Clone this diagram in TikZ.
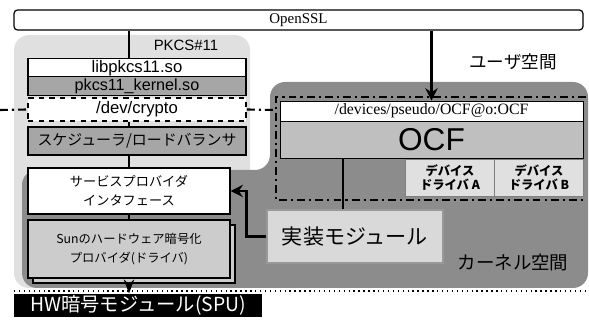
\documentclass[tikz,border=0pt]{standalone}
\usepackage{fontspec}
\setmainfont{Liberation Sans}
\newfontfamily\jp{Noto Sans CJK JP}
\newfontfamily\tms{Liberation Serif}
\usetikzlibrary{arrows.meta,shadows}

\begin{document}
\begin{tikzpicture}[x=0.02cm,y=-0.02cm,
  every node/.style={font=\small,inner sep=1pt},
  box/.style={draw,line width=0.7pt,minimum width=4.36cm,align=center},
  jpbox/.style={box,font=\jp\fontsize{7.5}{11}\selectfont},
  dashbox/.style={box,fill=white,dashed,line width=1pt},
  drv/.style={draw=black!50,fill=black!12,align=center,minimum width=1.78cm,minimum height=0.74cm,
    font=\jp\bfseries\fontsize{7}{8.5}\selectfont},
  space/.style={font=\jp\fontsize{10}{12}\selectfont},
  link/.style={line width=1.1pt},
  arrow/.style={-{Stealth},line width=1.1pt},
  bigarrow/.style={-{Stealth[length=7pt,width=7pt]},line width=1.7pt},
  boundary/.style={line width=1.2pt,dash pattern=on 4.5pt off 2.3pt on 1.2pt off 2.3pt}
]
  \useasboundingbox (0,0) rectangle (589,327);
  % user / kernel areas
  \fill[black!12,rounded corners=0.3cm] (14,35) rectangle (250,288);
  \fill[black!45,rounded corners=0.3cm] (22,288) -- (22,170) -- (270,170) -- (270,82)
    -- (588,82) -- (588,288) -- cycle;
  \draw[dotted,line width=0.8pt] (14,291) -- (585,291);

  \node[box,rounded corners=2pt,minimum width=11.38cm,minimum height=0.4cm,
    font=\tms\fontsize{8.5}{10}\selectfont] (openssl) at (298.5,20) {OpenSSL};
  \node[font=\fontsize{8.5}{10}\selectfont] (pkcs) at (186,45) {PKCS\#11};
  \node[box,fill=white,minimum height=0.36cm,font=\fontsize{9.5}{11}\selectfont] (libpkcs) at (137,68) {libpkcs11.so};
  \node[box,fill=black!35,minimum height=0.36cm,font=\fontsize{9.2}{11}\selectfont] (kernelso) at (137,86) {pkcs11\_kernel.so};
  \node[dashbox,minimum height=0.46cm,font=\fontsize{9.5}{11}\selectfont] (devcrypto) at (137,109.5) {/dev/crypto};
  \node[jpbox,fill=black!35,minimum height=0.56cm,font=\jp\fontsize{8.5}{10}\selectfont] (sched) at (137,141) {スケジューラ/ロードバランサ};
  \node[jpbox,fill=white,minimum width=4.04cm,minimum height=0.92cm] (spi) at (129,191) {サービスプロバイダ\\インタフェース};
  \node[jpbox,fill=black!20,minimum width=4.04cm,minimum height=1.16cm,font=\jp\fontsize{7}{10.4}\selectfont,
    copy shadow={shadow xshift=0.1cm,shadow yshift=-0.1cm}] (sun) at (129,249) {Sunのハードウェア暗号化\\プロバイダ(ドライバ)};
  \node[fill=black,text=white,minimum width=4.96cm,minimum height=0.42cm,
    font=\jp\fontsize{11}{13}\selectfont] (hw) at (138,305.5) {HW暗号モジュール(SPU)};
  \node[box,fill=black!15,draw=black!40,minimum width=3.52cm,minimum height=1.06cm,
    font=\jp\fontsize{12}{14}\selectfont] (impl) at (355,236.5) {実装モジュール};
  \node[box,fill=white,line width=0.5pt,minimum width=6.06cm,minimum height=0.4cm,
    font=\tms\fontsize{9}{11}\selectfont] (devpath) at (431.5,111) {/devices/pseudo/OCF@o:OCF};
  \node[box,fill=black!25,line width=0.5pt,minimum width=6.06cm,minimum height=0.74cm,
    font=\fontsize{18}{20}\selectfont] (ocf) at (431.5,139.5) {OCF};
  \node[drv] (drva) at (450,177.5) {デバイス\\ドライバ A};
  \node[drv] (drvb) at (539,177.5) {デバイス\\ドライバ B};
  \node[space] (user) at (513,62) {ユーザ空間};
  \node[space,font=\jp\fontsize{10.5}{12}\selectfont] (kernel) at (513,263) {カーネル空間};

  % user/kernel boundary
  \draw[boundary] (0,110) -- (devcrypto.west);
  \draw[boundary] (devcrypto.east) -- (276,110);
  \draw[boundary] (586,97) -- (276,97) -- (276,200) -- (586,200);

  \draw[link] (openssl.south -| spi.north) -- (libpkcs.north -| spi.north);
  \draw[link] (devcrypto.south -| spi.north) -- (sched.north -| spi.north);
  \draw[link] (sched.south -| spi.north) -- (spi.north);
  \draw[link] (spi.south) -- (sun.north);
  \draw[arrow] ([yshift=-0.1cm]sun.south) -- (hw.north -| sun.south);
  \draw[bigarrow] (openssl.south -| devpath.north) -- (devpath.north);
  \draw[bigarrow] (impl.west) -- ++(-0.4cm,0) |- (spi.east);
  \draw[link] ([xshift=-0.24cm]impl.north) -- ([xshift=-0.24cm]impl.north |- ocf.south);
\end{tikzpicture}
\end{document}
